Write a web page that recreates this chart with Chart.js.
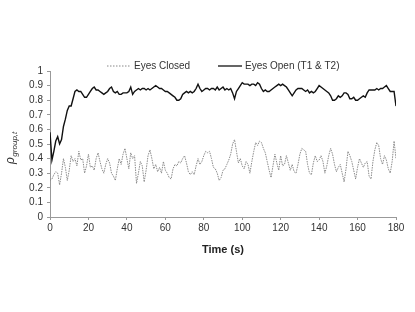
<!DOCTYPE html>
<html>
<head>
<meta charset="utf-8">
<script src="https://cdn.jsdelivr.net/npm/chart.js@4.4.1/dist/chart.umd.min.js"></script>
<style>
  html, body { margin: 0; padding: 0; background: #fff; }
  #wrap { width: 415px; height: 312px; position: relative; }
</style>
</head>
<body>
<div id="wrap"><canvas id="rhoChart"></canvas></div>
<script>
// time in seconds, one reading per second
const timeSec = Array.from({ length: 181 }, (_, i) => i);

const eyesOpen = [
  0.58, 0.39, 0.45, 0.52, 0.55, 0.50, 0.53, 0.62, 0.67, 0.73,
  0.76, 0.76, 0.81, 0.86, 0.87, 0.86, 0.86, 0.84, 0.82, 0.82,
  0.84, 0.86, 0.88, 0.89, 0.87, 0.87, 0.86, 0.85, 0.84, 0.85,
  0.86, 0.88, 0.89, 0.86, 0.85, 0.86, 0.84, 0.84, 0.85, 0.85,
  0.85, 0.86, 0.89, 0.84, 0.86, 0.87, 0.88, 0.87, 0.88, 0.88,
  0.87, 0.88, 0.87, 0.88, 0.89, 0.90, 0.89, 0.88, 0.88, 0.87,
  0.86, 0.86, 0.85, 0.84, 0.83, 0.82, 0.80, 0.80, 0.81, 0.84,
  0.85, 0.86, 0.85, 0.86, 0.85, 0.86, 0.88, 0.91, 0.88, 0.86,
  0.87, 0.88, 0.88, 0.87, 0.88, 0.88, 0.87, 0.89, 0.87, 0.88,
  0.89, 0.87, 0.88, 0.87, 0.88, 0.85, 0.81, 0.86, 0.88, 0.90,
  0.92, 0.91, 0.91, 0.91, 0.90, 0.91, 0.91, 0.90, 0.92, 0.91,
  0.88, 0.86, 0.87, 0.86, 0.86, 0.87, 0.88, 0.89, 0.90, 0.91,
  0.90, 0.91, 0.90, 0.89, 0.87, 0.85, 0.83, 0.85, 0.87, 0.88,
  0.88, 0.88, 0.87, 0.86, 0.87, 0.85, 0.86, 0.85, 0.86, 0.88,
  0.90, 0.89, 0.88, 0.87, 0.86, 0.85, 0.83, 0.80, 0.80, 0.81,
  0.83, 0.82, 0.83, 0.85, 0.85, 0.84, 0.81, 0.81, 0.82, 0.80,
  0.80, 0.81, 0.82, 0.83, 0.82, 0.85, 0.87, 0.87, 0.87, 0.87,
  0.88, 0.87, 0.88, 0.88, 0.89, 0.90, 0.88, 0.86, 0.86, 0.86,
  0.76
];

const eyesClosed = [
  0.25, 0.26, 0.29, 0.31, 0.30, 0.22, 0.30, 0.40, 0.34, 0.25,
  0.32, 0.42, 0.38, 0.40, 0.35, 0.45, 0.39, 0.40, 0.30, 0.35,
  0.43, 0.34, 0.35, 0.32, 0.40, 0.44, 0.38, 0.33, 0.30, 0.36,
  0.40, 0.37, 0.30, 0.28, 0.25, 0.33, 0.40, 0.36, 0.43, 0.47,
  0.40, 0.33, 0.44, 0.40, 0.42, 0.23, 0.30, 0.38, 0.35, 0.24,
  0.32, 0.42, 0.46, 0.40, 0.33, 0.36, 0.31, 0.34, 0.30, 0.38,
  0.32, 0.30, 0.27, 0.26, 0.33, 0.36, 0.35, 0.38, 0.37, 0.40,
  0.42, 0.37, 0.31, 0.29, 0.31, 0.29, 0.35, 0.40, 0.36, 0.38,
  0.42, 0.45, 0.44, 0.45, 0.40, 0.34, 0.33, 0.30, 0.25, 0.27,
  0.32, 0.33, 0.36, 0.39, 0.43, 0.50, 0.53, 0.45, 0.37, 0.40,
  0.35, 0.33, 0.38, 0.36, 0.30, 0.38, 0.45, 0.51, 0.49, 0.52,
  0.51, 0.47, 0.44, 0.38, 0.32, 0.27, 0.35, 0.43, 0.37, 0.32,
  0.42, 0.35, 0.36, 0.42, 0.37, 0.32, 0.36, 0.31, 0.30, 0.36,
  0.43, 0.47, 0.46, 0.45, 0.36, 0.30, 0.29, 0.37, 0.42, 0.38,
  0.39, 0.42, 0.38, 0.30, 0.35, 0.42, 0.47, 0.43, 0.36, 0.31,
  0.34, 0.36, 0.30, 0.24, 0.33, 0.45, 0.42, 0.38, 0.32, 0.26,
  0.34, 0.40, 0.37, 0.34, 0.37, 0.38, 0.28, 0.26, 0.38, 0.46,
  0.51, 0.49, 0.40, 0.36, 0.42, 0.39, 0.33, 0.30, 0.38, 0.52,
  0.40
];

const seriesNames = ['Eyes Closed', 'Eyes Open (T1 & T2)'];

const FONT = '"Liberation Sans", Arial, sans-serif';
const TEXT = '#333';
const AXIS = '#999';

// legend drawn by hand so it sits right above the plot like the original
const legendPlugin = {
  id: 'lineLegend',
  afterDraw(chart) {
    const ctx = chart.ctx;
    const y = 66;
    const items = [
      { x: 107, name: seriesNames[0], color: '#888', dash: [1.5, 1.5], width: 1 },
      { x: 218, name: seriesNames[1], color: '#111', dash: [], width: 1.3 }
    ];
    ctx.save();
    ctx.font = '10px ' + FONT;
    ctx.textBaseline = 'middle';
    items.forEach(it => {
      ctx.strokeStyle = it.color;
      ctx.lineWidth = it.width;
      ctx.setLineDash(it.dash);
      ctx.beginPath();
      ctx.moveTo(it.x, y);
      ctx.lineTo(it.x + 24, y);
      ctx.stroke();
      ctx.setLineDash([]);
      ctx.fillStyle = TEXT;
      ctx.fillText(it.name, it.x + 27, y);
    });
    ctx.restore();
  }
};

// y title: rho with subscript "group,t"
const rhoTitle = {
  id: 'rhoTitle',
  afterDraw(chart) {
    const ctx = chart.ctx;
    ctx.save();
    ctx.translate(14, 164);
    ctx.rotate(-Math.PI / 2);
    ctx.fillStyle = TEXT;
    ctx.textBaseline = 'alphabetic';
    ctx.font = 'italic 12px ' + FONT;
    ctx.fillText('ρ', 0, 0);
    const w = ctx.measureText('ρ').width;
    ctx.font = 'italic 8px ' + FONT;
    ctx.fillText('group,t', w + 0.5, 2.5);
    ctx.restore();
  }
};

new Chart(document.getElementById('rhoChart'), {
  type: 'line',
  data: {
    labels: timeSec,
    datasets: [
      {
        label: seriesNames[0],
        data: eyesClosed,
        borderColor: '#8a8a8a',
        borderWidth: 1,
        borderDash: [1.5, 1],
        pointRadius: 0,
        tension: 0
      },
      {
        label: seriesNames[1],
        data: eyesOpen,
        borderColor: '#111',
        borderWidth: 1.4,
        pointRadius: 0,
        tension: 0
      }
    ]
  },
  options: {
    responsive: true,
    maintainAspectRatio: false,
    animation: false,
    layout: { padding: { top: 71, left: 0, right: 19, bottom: 55 } },
    plugins: {
      legend: { display: false },
      tooltip: { enabled: false }
    },
    scales: {
      x: {
        type: 'linear',
        min: 0,
        max: 180,
        afterFit: s => { s.height = 40; },
        grid: { display: true, drawOnChartArea: false, color: AXIS, tickLength: 3 },
        border: { color: AXIS, width: 1 },
        ticks: { stepSize: 20, color: TEXT, font: { family: FONT, size: 10 }, padding: 2, maxRotation: 0, autoSkip: false },
        title: {
          display: true,
          text: 'Time (s)',
          color: '#222',
          font: { family: FONT, size: 11, weight: 'bold' },
          padding: { top: 4, bottom: 0 }
        }
      },
      y: {
        min: 0,
        max: 1,
        afterFit: s => { s.width = 50; },
        grid: { display: true, drawOnChartArea: false, color: AXIS, tickLength: 3 },
        border: { color: AXIS, width: 1 },
        ticks: {
          stepSize: 0.1,
          autoSkip: false,
          color: TEXT,
          font: { family: FONT, size: 10 },
          padding: 4,
          callback: v => String(Math.round(v * 10) / 10)
        }
      }
    }
  },
  plugins: [legendPlugin, rhoTitle]
});
</script>
</body>
</html>
